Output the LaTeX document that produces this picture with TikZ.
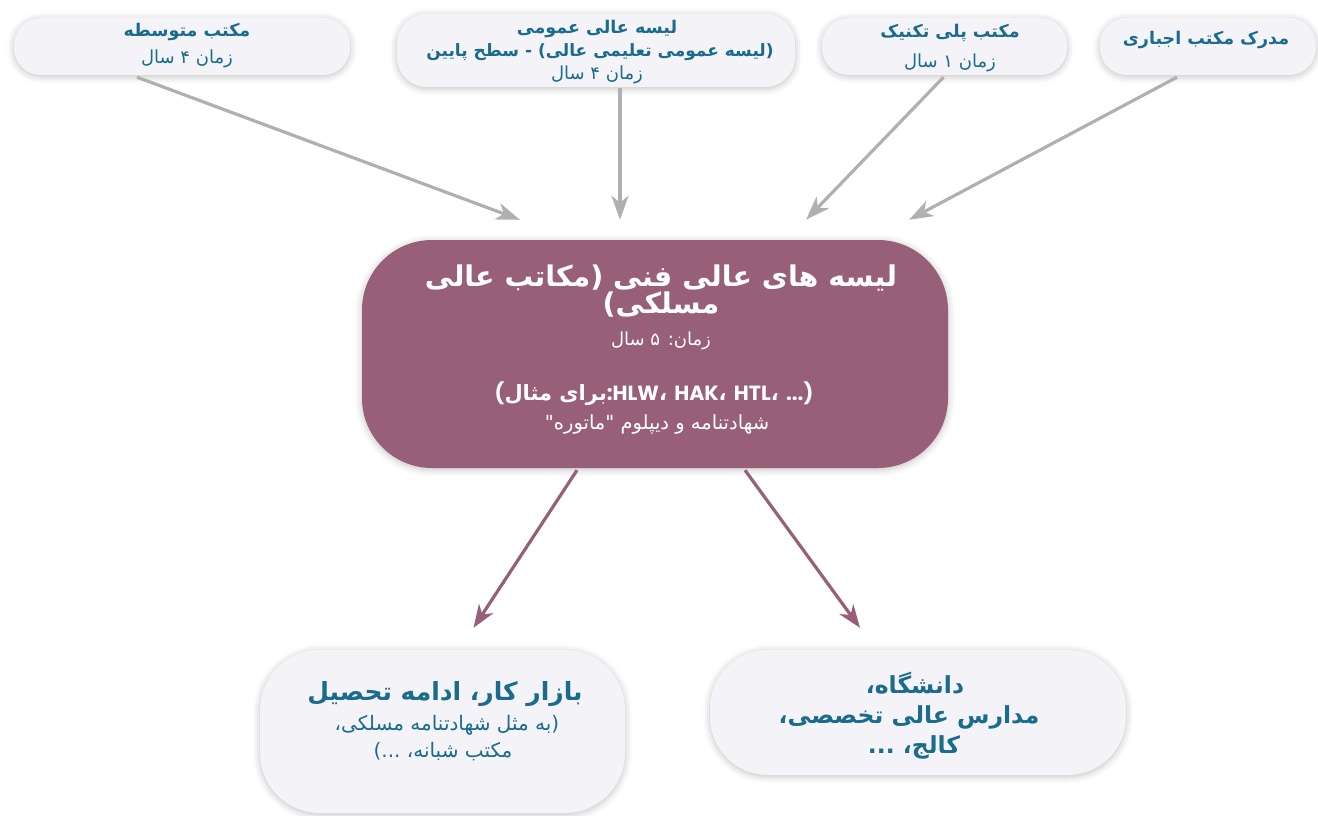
\documentclass[tikz,border=0pt]{standalone}
\usepackage{fontspec}
\usetikzlibrary{arrows.meta,calc,shadows.blur}
\TeXXeTstate=1
\newfontfamily\fa[Script=Arabic]{DejaVu Sans}
\newfontfamily\lat{Poppins}
\newcommand\fl[1]{\beginR#1\endR}
\definecolor{ink}{HTML}{1A6B8C}
\definecolor{plum}{HTML}{985F78}
\definecolor{pale}{HTML}{F4F4F8}
\definecolor{arrowgray}{HTML}{B0B0B0}

\begin{document}
\begin{tikzpicture}[x=1pt,y=-1pt,
  softshadow/.style={blur shadow={shadow xshift=0pt,shadow yshift=-1.5pt,shadow blur radius=7pt,shadow opacity=25}},
  box/.style={rectangle,rounded corners=#1,fill=pale,draw=none,softshadow,inner sep=0pt},
  box/.default=27pt,
  mainbox/.style={rectangle,rounded corners=70pt,fill=plum,draw=none,softshadow,inner sep=0pt},
  lbl/.style={anchor=base,inner sep=0pt,text=ink,font=\fa},
  wlbl/.style={anchor=base,inner sep=0pt,text=white,font=\fa},
  garrow/.style={draw=arrowgray,line width=3.2pt,-{Stealth[length=24pt,width=17pt,inset=7pt]}},
  parrow/.style={draw=plum,line width=3.2pt,-{Stealth[length=23pt,width=17pt,inset=7pt]}}
]
\useasboundingbox (0,0) rectangle (1318,816);

% boxes
\node[box,minimum width=336pt,minimum height=57pt] (n1) at (182,46.5) {};
\node[box=30pt,minimum width=398pt,minimum height=73pt] (n2) at (596,50.5) {};
\node[box,minimum width=245pt,minimum height=57pt] (n3) at (944.5,46.5) {};
\node[box,minimum width=216pt,minimum height=57pt] (n4) at (1208,46.5) {};
\node[mainbox,minimum width=586pt,minimum height=228pt] (main) at (655,354) {};
\node[box=60pt,minimum width=365pt,minimum height=163pt] (work) at (442.5,731.5) {};
\node[box=58pt,minimum width=416pt,minimum height=125pt] (uni) at (918,712.5) {};

% box texts
\node[lbl] (n1a) at (187,37) {\bfseries\fontsize{17.5}{18}\selectfont\fl{مکتب متوسطه}};
\node[lbl] (n1b) at (187,64) {\fontsize{18}{18}\selectfont\fl{زمان ۴ سال}};

\node[lbl] (n2a) at (597,34) {\bfseries\fontsize{17.5}{18}\selectfont\fl{لیسه عالی عمومی}};
\node[lbl] (n2b) at (600,57) {\bfseries\fontsize{17}{18}\selectfont\fl{(لیسه عمومی تعلیمی عالی) - سطح پایین}};
\node[lbl] (n2c) at (597,80) {\fontsize{18}{18}\selectfont\fl{زمان ۴ سال}};

\node[lbl] (n3a) at (950,38) {\bfseries\fontsize{17.5}{18}\selectfont\fl{مکتب پلی تکنیک}};
\node[lbl] (n3b) at (950,68) {\fontsize{18}{18}\selectfont\fl{زمان ۱ سال}};

\node[lbl] (n4a) at (1206,45) {\bfseries\fontsize{17.5}{18}\selectfont\fl{مدرک مکتب اجباری}};

\node[wlbl] (m1) at (661,286) {\bfseries\fontsize{28.5}{30}\selectfont\fl{لیسه های عالی فنی (مکاتب عالی}};
\node[wlbl] (m2) at (661,313) {\bfseries\fontsize{28.5}{30}\selectfont\fl{مسلکی)}};
\node[wlbl] (m3) at (661,345) {\fontsize{18}{18}\selectfont\fl{زمان: ۵ سال}};
\node[wlbl] (m4) at (654,400) {\bfseries\fontsize{21}{18}\selectfont
  {\lat\fontsize{20.5}{18}\selectfont (}\beginR برای مثال\endR{\lat\fontsize{20.5}{18}\selectfont :HLW}، {\lat\fontsize{20.5}{18}\selectfont HAK}، {\lat\fontsize{20.5}{18}\selectfont HTL}، {\lat\fontsize{20.5}{18}\selectfont ...)}};
\node[wlbl] (m5) at (657,429) {\fontsize{19.5}{18}\selectfont\fl{شهادتنامه و دیپلوم "ماتوره"}};

\node[lbl] (w1) at (445,700) {\bfseries\fontsize{25}{24}\selectfont\fl{بازار کار، ادامه تحصیل}};
\node[lbl] (w2) at (447,730) {\fontsize{20}{20}\selectfont\fl{(به مثل شهادتنامه مسلکی،}};
\node[lbl] (w3) at (443,757) {\fontsize{20}{20}\selectfont\fl{مکتب شبانه، ...)}};

\node[lbl] (u1) at (915,693) {\bfseries\fontsize{23.5}{24}\selectfont\fl{دانشگاه،}};
\node[lbl] (u2) at (909,723) {\bfseries\fontsize{23.5}{24}\selectfont\fl{مدارس عالی تخصصی،}};
\node[lbl] (u3) at (914,753) {\bfseries\fontsize{23.5}{24}\selectfont\fl{کالج، ...}};

% connector end points
\coordinate (s1) at ($(n1.south)+(-45,2)$);
\coordinate (e1) at ($(main.north)+(-135,-20)$);
\coordinate (s2) at ($(n2.south)+(24,1)$);
\coordinate (e2) at ($(main.north)+(-35,-20)$);
\coordinate (s3) at ($(n3.south)+(-1,2)$);
\coordinate (e3) at ($(main.north)+(151,-20)$);
\coordinate (s4) at ($(n4.south)+(-31,2)$);
\coordinate (e4) at ($(main.north)+(254,-20)$);
\coordinate (s5) at ($(main.south)+(-78,2)$);
\coordinate (e5) at ($(work.north)+(31,-22)$);
\coordinate (s6) at ($(main.south)+(90,2)$);
\coordinate (e6) at ($(uni.north)+(-58,-22)$);

\draw[garrow] (s1) -- (e1);
\draw[garrow] (s2) -- (e2);
\draw[garrow] (s3) -- (e3);
\draw[garrow] (s4) -- (e4);
\draw[parrow] (s5) -- (e5);
\draw[parrow] (s6) -- (e6);
\end{tikzpicture}
\end{document}
